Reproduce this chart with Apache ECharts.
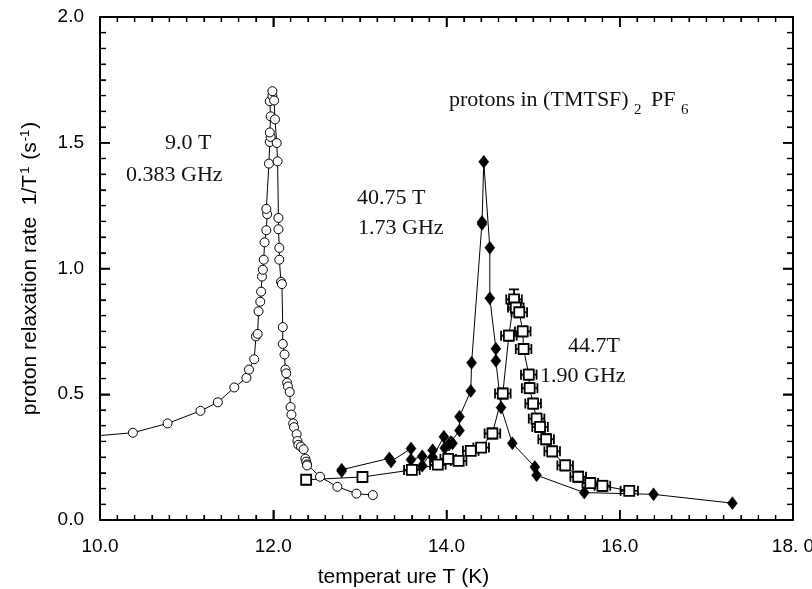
<!DOCTYPE html>
<html>
<head>
<meta charset="utf-8">
<script src="https://cdn.jsdelivr.net/npm/echarts@6/dist/echarts.min.js"></script>
<style>html,body{margin:0;padding:0;background:#fff;}#c{width:812px;height:589px;}</style>
</head>
<body>
<div id="c"></div>
<script>
// ---- data ----
// 9.0 T (0.383 GHz) : open circles
const circT = [9.80, 10.38, 10.78, 11.16, 11.36, 11.55, 11.69, 11.72, 11.78, 11.80, 11.82, 11.83, 11.85, 11.86, 11.87, 11.88, 11.89, 11.90, 11.92, 11.93, 11.92, 11.95, 11.96, 11.97, 11.96, 11.97, 11.96, 11.99, 11.99,
  12.01, 12.02, 12.04, 12.05, 12.06, 12.06, 12.07, 12.07, 12.09, 12.10, 12.11, 12.11, 12.13, 12.14, 12.15, 12.16, 12.17, 12.19, 12.20, 12.21, 12.23, 12.24, 12.27, 12.28, 12.29, 12.32, 12.35, 12.37, 12.38, 12.39, 12.39, 12.54, 12.74, 12.96, 13.15];
const circV = [0.330, 0.347, 0.384, 0.434, 0.468, 0.527, 0.565, 0.598, 0.639, 0.730, 0.740, 0.830, 0.868, 0.908, 0.968, 0.995, 1.035, 1.104, 1.152, 1.216, 1.237, 1.417, 1.503, 1.523, 1.541, 1.605, 1.665, 1.686, 1.705,
  1.668, 1.593, 1.499, 1.426, 1.201, 1.156, 1.082, 1.035, 0.947, 0.938, 0.767, 0.700, 0.658, 0.598, 0.583, 0.546, 0.531, 0.509, 0.449, 0.419, 0.384, 0.369, 0.341, 0.314, 0.299, 0.292, 0.281, 0.244, 0.232, 0.221, 0.217, 0.172, 0.132, 0.105, 0.099];

// 40.75 T (1.73 GHz) : filled diamonds
const diaT = [12.79, 12.79, 13.34, 13.36, 13.59, 13.59, 13.72, 13.72, 13.84, 13.84, 13.97, 13.98, 14.03, 14.05, 14.07, 14.15, 14.15, 14.28, 14.29, 14.41, 14.41, 14.43, 14.50, 14.50, 14.57, 14.57, 14.63, 14.76, 15.02, 15.04, 15.59, 16.39, 17.30];
const diaV = [0.200, 0.194, 0.245, 0.233, 0.284, 0.240, 0.253, 0.216, 0.277, 0.250, 0.331, 0.286, 0.300, 0.310, 0.305, 0.356, 0.411, 0.513, 0.625, 1.185, 1.177, 1.424, 1.083, 0.882, 0.681, 0.633, 0.447, 0.305, 0.211, 0.178, 0.109, 0.102, 0.067];

// 44.7 T (1.90 GHz) : open squares with error bars
const sqT = [12.38, 13.03, 13.60, 13.90, 14.02, 14.14, 14.28, 14.40, 14.53, 14.65, 14.72, 14.78, 14.80, 14.84, 14.88, 14.89, 14.95, 14.96, 15.00, 15.04, 15.08, 15.15, 15.22, 15.37, 15.52, 15.66, 15.80, 16.11];
const sqV = [0.160, 0.171, 0.199, 0.220, 0.243, 0.235, 0.275, 0.288, 0.344, 0.503, 0.733, 0.877, 0.845, 0.826, 0.750, 0.680, 0.578, 0.524, 0.463, 0.403, 0.370, 0.321, 0.273, 0.217, 0.172, 0.147, 0.136, 0.116];
const sqErrT = [0.00, 0.00, 0.09, 0.09, 0.09, 0.09, 0.09, 0.09, 0.09, 0.09, 0.09, 0.09, 0.09, 0.09, 0.09, 0.09, 0.09, 0.09, 0.09, 0.09, 0.09, 0.09, 0.09, 0.09, 0.09, 0.09, 0.09, 0.10];
const sqErrV = [0.00, 0.00, 0.01, 0.01, 0.01, 0.01, 0.01, 0.01, 0.02, 0.02, 0.02, 0.04, 0.02, 0.02, 0.02, 0.02, 0.02, 0.02, 0.02, 0.02, 0.02, 0.02, 0.02, 0.02, 0.02, 0.02, 0.02, 0.01];

// axis ticks
const xTickValues = [10, 12, 14, 16, 18];
const xTickLabels = ['10.0', '12.0', '14.0', '16.0', '18. 0'];
const yTickValues = [0, 0.5, 1, 1.5, 2];
const yTickLabels = ['0.0', '0.5', '1.0', '1.5', '2.0'];
const xMinorPerMajor = 10;
const yMinorPerMajor = 8;

// ---- chart ----
const zip = (a, b) => a.map((v, i) => [v, b[i]]);
const chart = echarts.init(document.getElementById('c'));
const sans = 'Liberation Sans, Arial, sans-serif';
const serif = 'Liberation Serif, Times New Roman, serif';
const X0 = xTickValues[0], X1 = xTickValues[xTickValues.length - 1];
const Y0 = yTickValues[0], Y1 = yTickValues[yTickValues.length - 1];

// tick positions (major flag 1, minor 0) built from the tick arrays
const xTicks = [], yTicks = [];
for (let i = 0; i < xTickValues.length; i++) {
  xTicks.push([xTickValues[i], Y0, 1]);
  if (i < xTickValues.length - 1) {
    const step = (xTickValues[i + 1] - xTickValues[i]) / xMinorPerMajor;
    for (let k = 1; k < xMinorPerMajor; k++) xTicks.push([xTickValues[i] + k * step, Y0, 0]);
  }
}
for (let i = 0; i < yTickValues.length; i++) {
  yTicks.push([X0, yTickValues[i], 1]);
  if (i < yTickValues.length - 1) {
    const step = (yTickValues[i + 1] - yTickValues[i]) / yMinorPerMajor;
    for (let k = 1; k < yMinorPerMajor; k++) yTicks.push([X0, yTickValues[i] + k * step, 0]);
  }
}

// error-bar items: only points that carry error bars
const errData = sqT.map((t, i) => [t, sqV[i], sqErrT[i], sqErrV[i]]).filter(d => d[2] > 0 || d[3] > 0);

function axisLine() { return { show: true, onZero: false, lineStyle: { color: '#000', width: 2 } }; }
function majorTick() { return { show: true, inside: true, length: 10, lineStyle: { color: '#000', width: 1.5 } }; }
function minorTick(n, len) { return { show: true, splitNumber: n, length: len, lineStyle: { color: '#000', width: 1.2 } }; }

const option = {
  backgroundColor: '#fff',
  animation: false,
  grid: { left: 100, right: 19, top: 17, bottom: 69, containLabel: false, outerBoundsMode: 'none' },
  xAxis: [
    {
      type: 'value', position: 'bottom', min: X0, max: X1, interval: 2,
      axisLine: axisLine(), axisTick: majorTick(), minorTick: minorTick(xMinorPerMajor, 5),
      splitLine: { show: false }, minorSplitLine: { show: false },
      axisLabel: {
        color: '#000', fontSize: 19, fontFamily: sans, margin: 17,
        formatter: v => { const i = xTickValues.indexOf(Math.round(v * 10) / 10); return i >= 0 ? xTickLabels[i] : ''; }
      },
      name: 'temperat ure T (K)', nameLocation: 'middle', nameGap: 47,
      nameTextStyle: { color: '#000', fontSize: 21, fontFamily: sans, padding: [0, 86, 0, 0] }
    },
    {
      type: 'value', position: 'top', min: X0, max: X1, interval: 2,
      axisLine: axisLine(), axisTick: majorTick(), minorTick: minorTick(xMinorPerMajor, 5),
      splitLine: { show: false }, minorSplitLine: { show: false },
      axisLabel: { show: false }
    }
  ],
  yAxis: [
    {
      type: 'value', position: 'left', min: Y0, max: Y1, interval: 0.5,
      axisLine: axisLine(), axisTick: majorTick(), minorTick: minorTick(yMinorPerMajor, 6),
      splitLine: { show: false }, minorSplitLine: { show: false },
      axisLabel: {
        color: '#000', fontSize: 19, fontFamily: sans, margin: 16,
        formatter: v => { const i = yTickValues.indexOf(Math.round(v * 10) / 10); return i >= 0 ? yTickLabels[i] : ''; }
      },
      name: '{a|proton relaxation rate  1/T}{s|1}{a| (s}{s|-1}{a|)}',
      nameLocation: 'middle', nameGap: 58, nameRotate: 90,
      nameTextStyle: {
        color: '#000', fontSize: 21, fontFamily: sans,
        rich: {
          a: { color: '#000', fontSize: 21, fontFamily: sans },
          s: { color: '#000', fontSize: 13, fontFamily: sans, verticalAlign: 'top', padding: [0, 1, 10, 1] }
        }
      }
    },
    {
      type: 'value', position: 'right', min: Y0, max: Y1, interval: 0.5,
      axisLine: axisLine(), axisTick: majorTick(), minorTick: minorTick(yMinorPerMajor, 6),
      splitLine: { show: false }, minorSplitLine: { show: false },
      axisLabel: { show: false }
    }
  ],
  series: [
    {
      name: 'x ticks', type: 'custom', silent: true,
      data: xTicks, encode: { x: 0, y: 1 },
      renderItem: function (params, api) {
        const v = api.value(0), major = api.value(2) === 1;
        const len = major ? 10 : 5;
        const st = { stroke: '#000', lineWidth: major ? 1.5 : 1.2 };
        const b = api.coord([v, Y0]), t = api.coord([v, Y1]);
        return { type: 'group', children: [
          { type: 'line', shape: { x1: b[0], y1: b[1], x2: b[0], y2: b[1] - len }, style: st },
          { type: 'line', shape: { x1: t[0], y1: t[1], x2: t[0], y2: t[1] + len }, style: st }
        ] };
      }
    },
    {
      name: 'y ticks', type: 'custom', silent: true,
      data: yTicks, encode: { x: 0, y: 1 },
      renderItem: function (params, api) {
        const v = api.value(1), major = api.value(2) === 1;
        const len = major ? 10 : 6;
        const st = { stroke: '#000', lineWidth: major ? 1.5 : 1.2 };
        const l = api.coord([X0, v]), r = api.coord([X1, v]);
        return { type: 'group', children: [
          { type: 'line', shape: { x1: l[0], y1: l[1], x2: l[0] + len, y2: l[1] }, style: st },
          { type: 'line', shape: { x1: r[0], y1: r[1], x2: r[0] - len, y2: r[1] }, style: st }
        ] };
      }
    },
    {
      name: '9.0 T', type: 'line', data: zip(circT, circV), clip: true,
      symbol: 'circle', symbolSize: 9, showAllSymbol: true,
      lineStyle: { color: '#000', width: 1 },
      itemStyle: { color: '#fff', borderColor: '#000', borderWidth: 1 }
    },
    {
      name: '40.75 T', type: 'line', data: zip(diaT, diaV), clip: true,
      symbol: 'diamond', symbolSize: [10, 13], showAllSymbol: true,
      lineStyle: { color: '#000', width: 1 },
      itemStyle: { color: '#000', borderColor: '#000', borderWidth: 0.5 }
    },
    {
      name: '44.7 T err', type: 'custom',
      data: errData,
      encode: { x: 0, y: 1 },
      renderItem: function (params, api) {
        const t = api.value(0), v = api.value(1), dt = api.value(2), dv = api.value(3);
        const st = { stroke: '#000', lineWidth: 1.8 };
        const l = api.coord([t - dt, v]), r = api.coord([t + dt, v]);
        const tp = api.coord([t, v + dv]), bt = api.coord([t, v - dv]);
        return { type: 'group', children: [
          { type: 'line', shape: { x1: l[0], y1: l[1], x2: r[0], y2: r[1] }, style: st },
          { type: 'line', shape: { x1: l[0], y1: l[1] - 5, x2: l[0], y2: l[1] + 5 }, style: st },
          { type: 'line', shape: { x1: r[0], y1: r[1] - 5, x2: r[0], y2: r[1] + 5 }, style: st },
          { type: 'line', shape: { x1: tp[0], y1: tp[1], x2: bt[0], y2: bt[1] }, style: st },
          { type: 'line', shape: { x1: tp[0] - 5, y1: tp[1], x2: tp[0] + 5, y2: tp[1] }, style: st },
          { type: 'line', shape: { x1: bt[0] - 5, y1: bt[1], x2: bt[0] + 5, y2: bt[1] }, style: st }
        ] };
      }
    },
    {
      name: '44.7 T', type: 'line', data: zip(sqT, sqV), clip: true,
      symbol: 'rect', symbolSize: 10, showAllSymbol: true,
      lineStyle: { color: '#000', width: 1 },
      itemStyle: { color: '#fff', borderColor: '#000', borderWidth: 1.8 }
    }
  ],
  graphic: [
    { type: 'text', left: 165, top: 132, style: { text: '9.0 T', font: '22px ' + serif, fill: '#111' } },
    { type: 'text', left: 126, top: 164, style: { text: '0.383 GHz', font: '22px ' + serif, fill: '#111' } },
    { type: 'text', left: 357, top: 187, style: { text: '40.75 T', font: '22px ' + serif, fill: '#111' } },
    { type: 'text', left: 358, top: 217, style: { text: '1.73 GHz', font: '22px ' + serif, fill: '#111' } },
    { type: 'text', left: 449, top: 89, style: { text: 'protons in (TMTSF)', font: '22px ' + serif, fill: '#111' } },
    { type: 'text', left: 634, top: 103, style: { text: '2', font: '15px ' + serif, fill: '#111' } },
    { type: 'text', left: 651, top: 89, style: { text: 'PF', font: '22px ' + serif, fill: '#111' } },
    { type: 'text', left: 681, top: 103, style: { text: '6', font: '15px ' + serif, fill: '#111' } },
    { type: 'text', left: 568, top: 335, style: { text: '44.7T', font: '22px ' + serif, fill: '#111' } },
    { type: 'text', left: 540, top: 365, style: { text: '1.90 GHz', font: '22px ' + serif, fill: '#111' } }
  ]
};
chart.setOption(option);
</script>
</body>
</html>
